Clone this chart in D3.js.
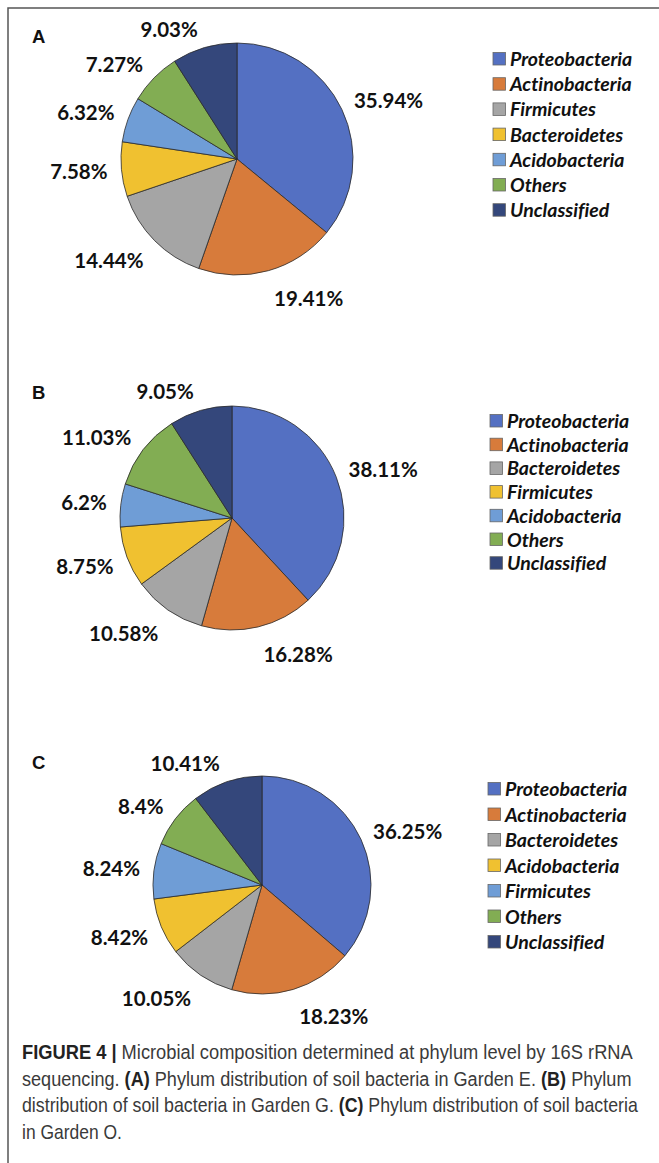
<!DOCTYPE html>
<html>
<head>
<meta charset="utf-8">
<script src="https://cdn.jsdelivr.net/npm/d3@7"></script>
<style>
  html, body { margin: 0; padding: 0; background: #fff; }
  svg { display: block; }
  text { font-variant-ligatures: none; }
</style>
</head>
<body>
<svg id="chart"></svg>
<script>
// Slice colours follow point order (Excel style), not category name
const sliceColors = ["#5470c2", "#d77b3b", "#a5a5a5", "#f0c130", "#6f9dd6", "#82ad53", "#34477b"];

// Panel A - Garden E
const catsA = ["Proteobacteria", "Actinobacteria", "Firmicutes", "Bacteroidetes", "Acidobacteria", "Others", "Unclassified"];
const valsA = [35.94, 19.41, 14.44, 7.58, 6.32, 7.27, 9.03];

// Panel B - Garden G
const catsB = ["Proteobacteria", "Actinobacteria", "Bacteroidetes", "Firmicutes", "Acidobacteria", "Others", "Unclassified"];
const valsB = [38.11, 16.28, 10.58, 8.75, 6.2, 11.03, 9.05];

// Panel C - Garden O
const catsC = ["Proteobacteria", "Actinobacteria", "Bacteroidetes", "Acidobacteria", "Firmicutes", "Others", "Unclassified"];
const valsC = [36.25, 18.23, 10.05, 8.42, 8.24, 8.4, 10.41];

const captionLines = [
  [["FIGURE 4 | ", true], ["Microbial composition determined at phylum level by 16S rRNA", false]],
  [["sequencing. ", false], ["(A)", true], [" Phylum distribution of soil bacteria in Garden E. ", false], ["(B)", true], [" Phylum", false]],
  [["distribution of soil bacteria in Garden G. ", false], ["(C)", true], [" Phylum distribution of soil bacteria", false]],
  [["in Garden O.", false]]
];
// narrow caption face is not installed, so squeeze each line to the printed width
const captionWidths = [611, 610, 616, 100];

const W = 659, H = 1163;
const svg = d3.select("#chart").attr("width", W).attr("height", H);

// frame (top and left rules)
svg.append("path")
  .attr("d", `M8,${H} L8,8 L${W},8`)
  .attr("fill", "none")
  .attr("stroke", "#555")
  .attr("stroke-width", 1.5);

const panels = [
  { letter: "A", cats: catsA, vals: valsA, cx: 237, cy: 159, r: 116, letterY: 43, legX: 493, legY: 59, legStep: 25.2 },
  { letter: "B", cats: catsB, vals: valsB, cx: 232, cy: 518, r: 112, letterY: 399, legX: 490, legY: 421, legStep: 23.7 },
  { letter: "C", cats: catsC, vals: valsC, cx: 262, cy: 885, r: 109, letterY: 769, legX: 488, legY: 789, legStep: 25.5 }
];

const pie = d3.pie().sort(null).value(d => d);

panels.forEach(p => {
  const g = svg.append("g");

  g.append("text")
    .attr("x", 32)
    .attr("y", p.letterY)
    .attr("font-family", "'Liberation Sans', Arial, sans-serif")
    .attr("font-weight", "bold")
    .attr("font-size", 18.5)
    .attr("fill", "#111")
    .text(p.letter);

  const arc = d3.arc().innerRadius(0).outerRadius(p.r);
  const arcs = pie(p.vals);

  const pieG = g.append("g").attr("transform", `translate(${p.cx},${p.cy})`);
  pieG.selectAll("path")
    .data(arcs)
    .join("path")
    .attr("d", arc)
    .attr("fill", (d, i) => sliceColors[i])
    .attr("stroke", "#2a2a2a")
    .attr("stroke-width", 0.8);

  // outside-end labels: anchored on a ring just outside the pie
  const ring = p.r + 10;
  pieG.selectAll("text")
    .data(arcs)
    .join("text")
    .each(function (d) {
      const a = (d.startAngle + d.endAngle) / 2;
      const ux = Math.sin(a), uy = -Math.cos(a);
      const right = ux >= 0;
      d3.select(this)
        .attr("x", ux * ring + (right ? 3 : -4))
        .attr("y", uy * ring + uy * (uy > 0 ? 19 : 9))
        .attr("text-anchor", right ? "start" : "end");
    })
    .attr("dy", "0.35em")
    .attr("font-family", "Lato, 'Open Sans', sans-serif")
    .attr("font-weight", "bold")
    .attr("font-size", 20.5)
    .attr("fill", "#111")
    .text(d => d.data + "%");

  // legend
  const leg = g.append("g");
  const rows = leg.selectAll("g")
    .data(p.cats)
    .join("g")
    .attr("transform", (d, i) => `translate(${p.legX},${p.legY + i * p.legStep})`);
  rows.append("rect")
    .attr("x", 0).attr("y", -6.5)
    .attr("width", 12.5).attr("height", 12.5)
    .attr("fill", (d, i) => sliceColors[i])
    .attr("stroke", "#666")
    .attr("stroke-width", 0.8);
  rows.append("text")
    .attr("x", 17)
    .attr("dy", "0.36em")
    .attr("font-family", "Lato, 'Open Sans', sans-serif")
    .attr("font-weight", "bold")
    .attr("font-style", "italic")
    .attr("font-size", 19.5)
    .attr("fill", "#111")
    .text(d => d);
});

// caption
const cap = svg.append("g")
  .attr("font-family", "'Liberation Sans Narrow', 'Arial Narrow', 'Liberation Sans', sans-serif")
  .attr("font-size", 20)
  .attr("fill", "#3a3a3a");
captionLines.forEach((line, i) => {
  const y = 1059 + i * 26.5;
  const t = cap.append("text");
  line.forEach(([s, b]) => {
    t.append("tspan")
      .attr("font-weight", b ? "bold" : "normal")
      .attr("fill", b ? "#222" : "#3a3a3a")
      .text(s);
  });
  const k = captionWidths[i] / t.node().getComputedTextLength();
  t.attr("transform", `translate(22,${y}) scale(${k},1)`);
});
</script>
</body>
</html>
